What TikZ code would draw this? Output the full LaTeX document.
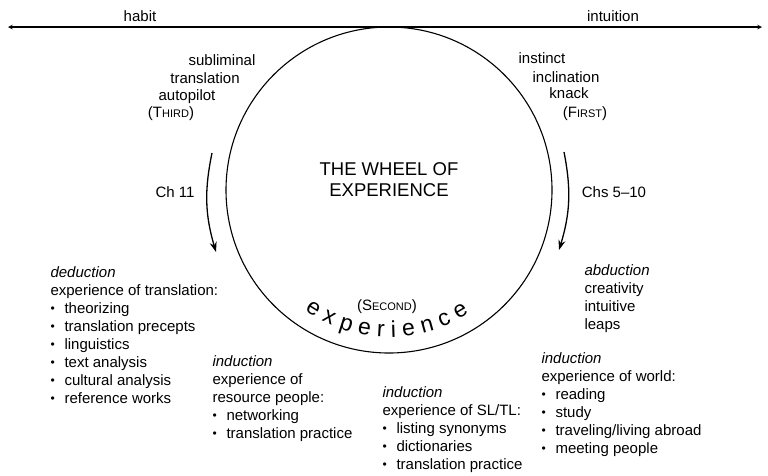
\documentclass[tikz,border=0pt]{standalone}
\usepackage{fontspec}
\setmainfont{Liberation Sans}
\usepackage{tikz}
\usetikzlibrary{arrows,arrows.meta,decorations.text,positioning}

\newcommand{\itm}{\makebox[14pt][l]{\raisebox{0.5pt}{\fontsize{12}{12}\selectfont\textbullet}}}
\newcommand{\smc}[2]{#1{\fontsize{11}{11}\selectfont #2}}

\begin{document}
\begin{tikzpicture}[x=1pt, y=-1pt, >=stealth, line width=1.1pt, inner sep=0pt]
      \useasboundingbox (0,0) rectangle (768,475);
      \tikzstyle{every node}=[font=\fontsize{15}{18}\selectfont]
      \tikzstyle{block}=[align=left, anchor=north west]
      \tikzstyle{word}=[anchor=base]
      \tikzstyle{chapter}=[-{Stealth[length=10pt, width=7pt]}, line width=1.3pt]

      \coordinate (habitend) at (8,27);
      \coordinate (intuitionend) at (762,27);
      \node[word] (habit) at (140,21) {habit};
      \node[word] (intuition) at (613,21) {intuition};

      \node[draw, circle, minimum size=326pt] (wheel) at (389,190) {};
      \node[align=center, font=\fontsize{18.5}{21}\selectfont] (title) at (389,180) {THE WHEEL OF\\EXPERIENCE};

      \node[word] (subl) at (222,65) {subliminal};
      \node[word] (transl) at (205,83) {translation};
      \node[word] (autop) at (187,100) {autopilot};
      \node[word] (third) at (171,117) {(\smc{T}{HIRD})};

      \node[word] (instinct) at (542,63) {instinct};
      \node[word] (inclin) at (566,82) {inclination};
      \node[word] (knack) at (569,98) {knack};
      \node[word] (first) at (585,117) {(\smc{F}{IRST})};

      \coordinate (thirdtop) at (212,153);
      \coordinate (thirdtip) at (216,252);
      \coordinate (firsttop) at (564,152);
      \coordinate (firsttip) at (559,250);
      \node[word] (ch11) at (175,197) {Ch 11};
      \node[word] (ch510) at (614,197) {Chs 5--10};

      \node[word] (second) at (387,310) {(\smc{S}{ECOND})};
      \path[decorate, decoration={text along path, text align={fit to path},
            text={|\fontsize{23}{23}\selectfont|experience}}]
            (wheel.center) ++(125:147) arc[start angle=125, end angle=57, radius=147];

      \node[block] (deduct) at (50,266) {\textit{deduction}\\experience of translation:\\
            \itm theorizing\\\itm translation precepts\\\itm linguistics\\
            \itm text analysis\\\itm cultural analysis\\\itm reference works};
      \node[block] (resource) at (212,355) {\textit{induction}\\experience of\\resource people:\\
            \itm networking\\\itm translation practice};
      \node[block] (sltl) at (382,386) {\textit{induction}\\experience of SL/TL:\\
            \itm listing synonyms\\\itm dictionaries\\\itm translation practice};
      \node[block] (abduct) at (584,264) {\textit{abduction}\\creativity\\intuitive\\leaps};
      \node[block] (world) at (541,352) {\textit{induction}\\experience of world:\\
            \itm reading\\\itm study\\\itm traveling/living abroad\\\itm meeting people};

      \path
      (habitend) edge[<->] (intuitionend)
      (thirdtop) edge[chapter, bend right=14] (thirdtip)
      (firsttop) edge[chapter, bend left=14] (firsttip);
    \end{tikzpicture}
\end{document}
